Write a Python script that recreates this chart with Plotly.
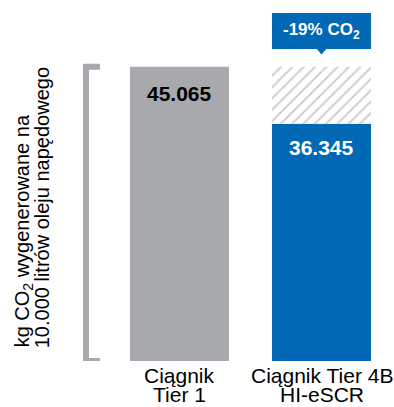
import plotly.graph_objects as go

# ---- data ----
cat_line1 = ["Ciągnik", "Ciągnik Tier 4B"]
cat_line2 = ["Tier 1", "HI-eSCR"]
values = [45.065, 36.345]
value_labels = ["45.065", "36.345"]
reduction_label = "-19% CO<sub>2</sub>"
title_lines = ["kg CO<sub>2</sub> wygenerowane na", "10.000 litrów oleju napędowego"]

GRAY = "#a7a9ac"
BLUE = "#0068b4"
FONT = "Liberation Sans, Arial, sans-serif"
x_pos = [0, 1]
bar_w = 0.697

fig = go.Figure()
fig.add_bar(x=x_pos, y=values, width=bar_w,
            marker=dict(color=[GRAY, BLUE], line_width=0), hoverinfo="skip")
# hatched "saving" part on top of second bar
fig.add_bar(x=[x_pos[1]], y=[values[0] - values[1]], base=[values[1]], width=bar_w,
            marker=dict(color="#9c9c9c", line_width=0,
                        pattern=dict(shape="/", fgcolor="#9c9c9c", bgcolor="white",
                                     size=8, solidity=0.24)),
            hoverinfo="skip")

# value labels
fig.add_annotation(x=x_pos[0], y=values[0], yref="y", yshift=-27, text="<b>%s</b>" % value_labels[0],
                   showarrow=False, font=dict(family=FONT, size=21, color="black"))
fig.add_annotation(x=x_pos[1], y=values[1], yref="y", yshift=-24, text="<b>%s</b>" % value_labels[1],
                   showarrow=False, font=dict(family=FONT, size=21, color="white"))

# category labels (two tight lines)
for i in range(2):
    fig.add_annotation(x=x_pos[i], y=-0.043, yref="paper", text=cat_line1[i], showarrow=False,
                       yanchor="middle", font=dict(family=FONT, size=21, color="black"))
    fig.add_annotation(x=x_pos[i], y=-0.097, yref="paper", text=cat_line2[i], showarrow=False,
                       yanchor="middle", font=dict(family=FONT, size=21, color="black"))

# axis title (two rotated lines)
fig.add_annotation(x=-0.354, y=0.032, xref="paper", yref="paper", text=title_lines[0],
                   textangle=-90, showarrow=False, xanchor="center", yanchor="bottom",
                   font=dict(family=FONT, size=20, color="black"))
fig.add_annotation(x=-0.285, y=0.032, xref="paper", yref="paper", text=title_lines[1],
                   textangle=-90, showarrow=False, xanchor="center", yanchor="bottom",
                   font=dict(family=FONT, size=20, color="black"))

# bracket
bx = -0.1241
bx2 = -0.073
fig.add_shape(type="path", xref="paper", yref="y",
              path=f"M {bx2} {values[0]} L {bx} {values[0]} L {bx} 0 L {bx2} 0",
              line=dict(color=GRAY, width=6))

# callout box with pointer
hw = bar_w / 2
tw = 0.033
x1 = x_pos[1]
fig.add_shape(type="path", xref="x", yref="paper",
              path=(f"M {x1-hw} 1.0 L {x1+hw} 1.0 L {x1+hw} 0.8966 L {x1+tw} 0.8966 "
                    f"L {x1} 0.8807 L {x1-tw} 0.8966 L {x1-hw} 0.8966 Z"),
              fillcolor=BLUE, line=dict(width=0))
fig.add_annotation(x=x1, y=0.948, yref="paper", text="<b>%s</b>" % reduction_label,
                   showarrow=False, yanchor="middle",
                   font=dict(family=FONT, size=17, color="white"))

fig.update_layout(
    width=394, height=407, barmode="overlay", showlegend=False,
    margin=dict(l=120, r=0, t=13, b=46),
    paper_bgcolor="white", plot_bgcolor="white",
    xaxis=dict(range=[-0.419, 1.5106], visible=False, fixedrange=True),
    yaxis=dict(range=[0, 53.29], visible=False, fixedrange=True),
    font=dict(family=FONT),
)

fig.write_html("out.html", config=dict(displayModeBar=False))
